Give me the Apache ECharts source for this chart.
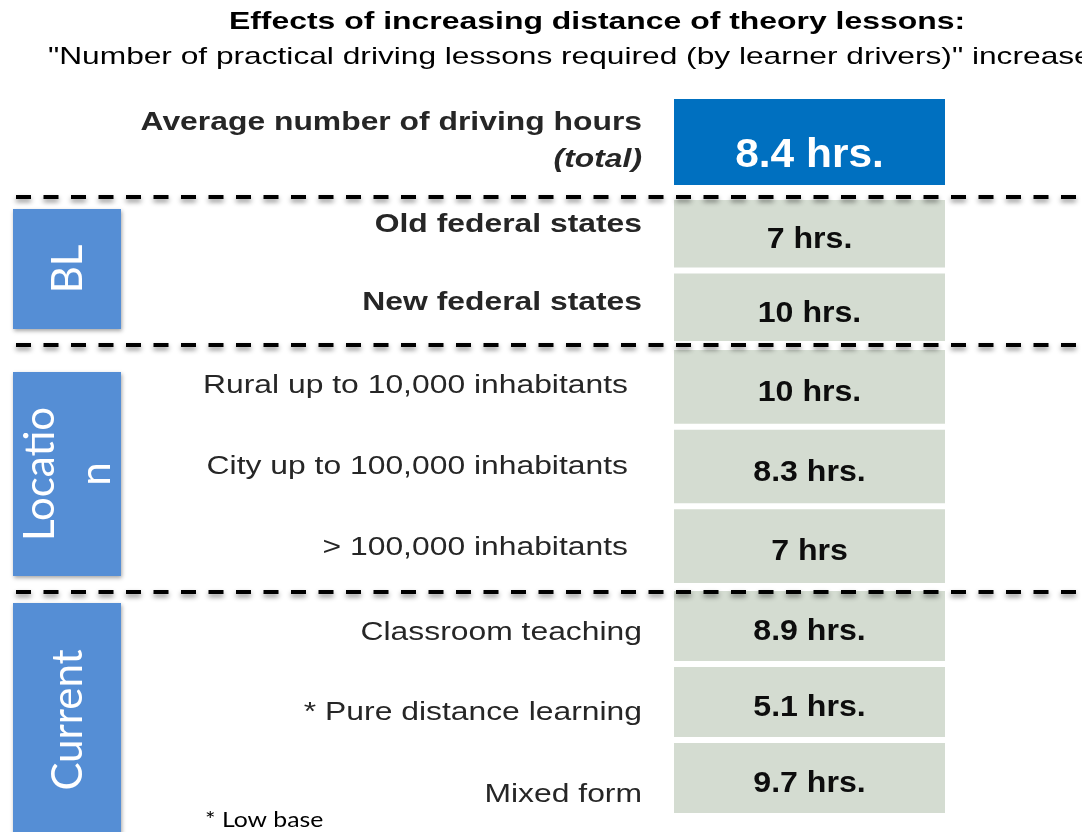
<!DOCTYPE html>
<html>
<head>
<meta charset="utf-8">
<script src="https://cdn.jsdelivr.net/npm/echarts@6/dist/echarts.min.js"></script>
<style>
  html, body { margin: 0; padding: 0; background: #fff; }
  #main { width: 1082px; height: 832px; }
</style>
</head>
<body>
<div id="main"></div>
<script>
var titleText = 'Effects of increasing distance of theory lessons:';
var subText = '"Number of practical driving lessons required (by learner drivers)" increases';

var totalLabel = 'Average number of driving hours';
var totalNote = '(total)';
var totalValue = [8.4];

var groupNames = ['BL', 'Locatio\nn', 'Current'];

var blRows = ['Old federal states', 'New federal states'];
var blValues = [7, 10];

var locRows = ['Rural up to 10,000 inhabitants', 'City up to 100,000 inhabitants', '> 100,000 inhabitants'];
var locValues = [10, 8.3, 7];
var locUnits = [' hrs.', ' hrs.', ' hrs'];

var curRows = ['Classroom teaching', '* Pure distance learning', 'Mixed form'];
var curValues = [8.9, 5.1, 9.7];

var footnote = '* Low base';

var ARIAL = '"Liberation Sans", Arial, sans-serif';
var SIDE = 'Lato, "Open Sans", sans-serif';
var STRETCH = 1.225;   // the slide text is wider than its font height suggests

// one cell per row: rect + value, and the row name to its left
function cellRenderer(opt) {
    return function (params, api) {
        var i = params.dataIndex;
        var c = api.coord([api.value(0), api.value(1)]);
        var s = api.size([1, 1]);
        var h = s[1] - opt.gap;
        var unit = opt.units ? opt.units[i] : ' hrs.';
        var lx = c[0] - s[0] / 2 - opt.margin;
        var ly = c[1] + (opt.shift ? opt.shift[i] : 0);
        var kids = [{
            type: 'rect',
            shape: { x: c[0] - s[0] / 2, y: c[1] - h / 2, width: s[0], height: h },
            style: { fill: opt.fill }
        }, {
            type: 'text',
            x: c[0],
            y: c[1] + opt.dy,
            scaleX: opt.valueStretch,
            style: {
                text: api.value(2) + unit,
                fill: opt.color,
                font: opt.font,
                align: 'center',
                verticalAlign: 'middle'
            }
        }];
        var lines = opt.note ? [opt.rows[i], opt.note] : [opt.rows[i]];
        lines.forEach(function (t, k) {
            kids.push({
                type: 'text',
                x: lx,
                y: opt.note ? ly - 19 + k * 37 : ly,
                scaleX: STRETCH,
                style: {
                    text: t,
                    fill: '#262626',
                    font: (opt.note && k === 1 ? 'italic ' : '') + opt.labelWeight + ' 26px ' + ARIAL,
                    align: 'right',
                    verticalAlign: 'middle'
                }
            });
        });
        return { type: 'group', children: kids };
    };
}

function toData(vals) {
    return vals.map(function (v, k) { return [0, k, v]; });
}

var grids = [
    { left: 674, width: 271, top: 99, height: 86 },
    { left: 674, width: 271, top: 197, height: 147 },
    { left: 674, width: 271, top: 347, height: 239 },
    { left: 674, width: 271, top: 588, height: 228 }
];

var rowSets = [[totalLabel], blRows, locRows, curRows];

function gray(extra) {
    return Object.assign({
        fill: '#D4DCD1', color: '#0d0d0d', font: 'bold 30px ' + ARIAL,
        valueStretch: 1.07, gap: 6, dy: 6, margin: 32, labelWeight: 'normal'
    }, extra);
}

var series = [
    { data: toData(totalValue), opt: { fill: '#0070C0', color: '#fff', font: 'bold 41px ' + ARIAL, valueStretch: 1.035,
        gap: 0, dy: 14, margin: 32, labelWeight: 'bold', rows: rowSets[0], note: totalNote } },
    { data: toData(blValues), opt: gray({ rows: blRows, labelWeight: 'bold', shift: [-9, -4] }) },
    { data: toData(locValues), opt: gray({ rows: locRows, units: locUnits, margin: 46, shift: [-1, 0, 2] }) },
    { data: toData(curValues), opt: gray({ rows: curRows, shift: [7, 11, 17] }) }
];

function sideBox(name, top, height, dy) {
    return {
        type: 'group',
        children: [{
            type: 'rect',
            shape: { x: 13, y: top, width: 108, height: height },
            style: { fill: '#558ED5', shadowBlur: 4, shadowOffsetX: 1, shadowOffsetY: 2, shadowColor: 'rgba(0,0,0,0.35)' }
        }, {
            type: 'text',
            x: 68,
            y: top + height / 2 + dy,
            rotation: Math.PI / 2,
            style: {
                text: name,
                fill: '#fff',
                font: '42px ' + SIDE,
                lineHeight: 56,
                align: 'center',
                verticalAlign: 'middle'
            }
        }]
    };
}

function dashLine(y) {
    return {
        type: 'line',
        z: 100,
        shape: { x1: 16, y1: y, x2: 1090, y2: y },
        style: {
            stroke: '#000',
            lineWidth: 4,
            lineDash: [15, 12.5],
            shadowBlur: 5,
            shadowOffsetY: 3,
            shadowColor: 'rgba(0,0,0,0.45)'
        }
    };
}

var chart = echarts.init(document.getElementById('main'));
chart.setOption({
    animation: false,
    grid: grids,
    xAxis: grids.map(function (g, i) {
        return { type: 'category', gridIndex: i, data: ['hrs'], show: false };
    }),
    yAxis: grids.map(function (g, i) {
        return {
            type: 'category',
            gridIndex: i,
            inverse: true,
            data: rowSets[i],
            axisLine: { show: false },
            axisTick: { show: false },
            splitLine: { show: false },
            axisLabel: { show: false }
        };
    }),
    series: series.map(function (s, i) {
        return {
            type: 'custom',
            xAxisIndex: i,
            yAxisIndex: i,
            encode: { x: 0, y: 1 },
            data: s.data,
            renderItem: cellRenderer(s.opt)
        };
    }),
    graphic: [
        {
            type: 'text', x: 597, y: 22, scaleX: 1.33,
            style: { text: titleText, fill: '#000', font: 'bold 24px ' + ARIAL, align: 'center', verticalAlign: 'middle' }
        },
        {
            type: 'text', x: 48, y: 57, scaleX: 1.32,
            style: { text: subText, fill: '#000', font: '24px ' + ARIAL, align: 'left', verticalAlign: 'middle' }
        },
        sideBox(groupNames[0], 209, 120, 0),
        sideBox(groupNames[1], 372, 204, 0),
        sideBox(groupNames[2], 603, 250, -8),
        dashLine(197),
        dashLine(345),
        dashLine(592),
        {
            type: 'text', x: 205, y: 820, scaleX: 1.18,
            style: { text: footnote, fill: '#000', font: '21px ' + SIDE, align: 'left', verticalAlign: 'middle' }
        }
    ]
});
</script>
</body>
</html>
